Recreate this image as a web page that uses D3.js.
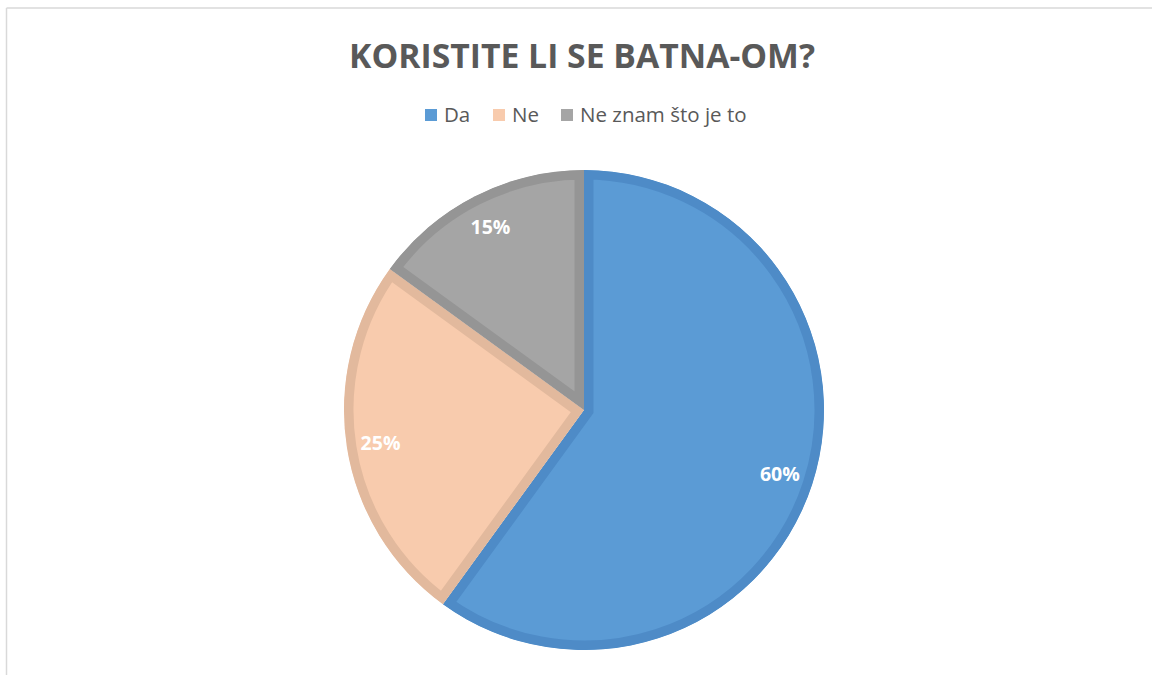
<!DOCTYPE html>
<html>
<head>
<meta charset="utf-8">
<script src="https://cdn.jsdelivr.net/npm/d3@7"></script>
<style>
  body { margin: 0; background: #fff; }
  svg { display: block; }
</style>
</head>
<body>
<svg id="chart" width="1152" height="675"></svg>
<script>
// chart data
const categories = ['Da', 'Ne', 'Ne znam što je to'];
const values = [60, 25, 15];
const fills = ['#5b9bd5', '#f8cbad', '#a5a5a5'];
const strokes = ['#4e8bc7', '#e2b99d', '#959595'];

const svg = d3.select('#chart');
const W = 1152, H = 675;

// frame lines (top + left only visible)
svg.append('line').attr('x1', 6.5).attr('y1', 8).attr('x2', W).attr('y2', 8)
  .attr('stroke', '#d9d9d9').attr('stroke-width', 1.5);
svg.append('line').attr('x1', 6.5).attr('y1', 8).attr('x2', 6.5).attr('y2', H)
  .attr('stroke', '#d9d9d9').attr('stroke-width', 1.5);

// title
const title = svg.append('text')
  .attr('x', 582).attr('y', 68)
  .attr('text-anchor', 'middle')
  .attr('font-family', 'Open Sans, sans-serif')
  .attr('font-weight', 700)
  .attr('font-size', 32)
  .attr('fill', '#595959')
  .text('KORISTITE LI SE BATNA-OM?');
// fit title width to reference
const tw = title.node().getComputedTextLength();
title.attr('font-size', 32 * 466 / tw);

// legend
const legendX = [425, 493, 561];
const legend = svg.append('g');
categories.forEach((c, i) => {
  legend.append('rect')
    .attr('x', legendX[i]).attr('y', 109)
    .attr('width', 12).attr('height', 12)
    .attr('fill', fills[i]);
  legend.append('text')
    .attr('x', legendX[i] + 19).attr('y', 122)
    .attr('font-family', 'Open Sans, sans-serif')
    .attr('font-size', 20.5)
    .attr('fill', '#595959')
    .text(c);
});

// pie
const cx = 584, cy = 410, R = 240;
const pie = d3.pie().sort(null).value(d => d)(values);
const arc = d3.arc().innerRadius(0).outerRadius(R);
const labelArc = d3.arc().innerRadius(206).outerRadius(206);

const g = svg.append('g').attr('transform', `translate(${cx},${cy})`);
const defs = svg.append('defs');

pie.forEach((p, i) => {
  defs.append('clipPath').attr('id', 'clip' + i)
    .append('path').attr('d', arc(p));
  g.append('path')
    .attr('d', arc(p))
    .attr('fill', fills[i])
    .attr('stroke', strokes[i])
    .attr('stroke-width', 19)
    .attr('stroke-linejoin', 'miter')
    .attr('clip-path', `url(#clip${i})`);
});

pie.forEach((p, i) => {
  const [lx, ly] = labelArc.centroid(p);
  g.append('text')
    .attr('x', lx).attr('y', ly)
    .attr('text-anchor', 'middle')
    .attr('dominant-baseline', 'central')
    .attr('font-family', 'Open Sans, sans-serif')
    .attr('font-weight', 700)
    .attr('font-size', 19.5)
    .attr('fill', '#fff')
    .text(values[i] + '%');
});
</script>
</body>
</html>
